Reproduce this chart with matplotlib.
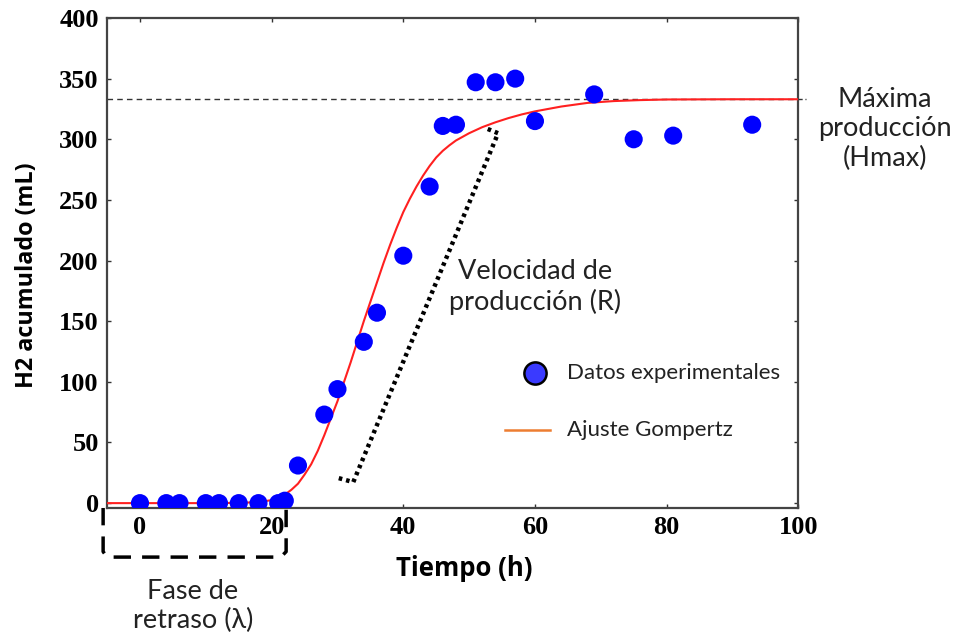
import matplotlib
matplotlib.use("Agg")
import matplotlib.pyplot as plt

# Experimental data (time h, accumulated H2 mL)
t_exp = [0, 4, 6, 10, 12, 15, 18, 21, 22, 24, 28, 30, 34, 36, 40, 44, 46, 48, 51, 54, 57, 60, 69, 75, 81, 93]
h_exp = [0, 0, 0, 0, 0, 0, 0, 0, 2, 31, 73, 94, 133, 157, 204, 261, 311, 312, 347, 347, 350, 315, 337, 300, 303, 312]

# Gompertz fit curve
t_fit = [-5, 0, 10, 15, 18, 20, 21, 22, 23, 24, 25, 26, 27, 28, 29, 30, 31, 32, 33, 34, 35, 36, 37, 38, 39, 40,
         41, 42, 43, 44, 45, 46, 47, 48, 50, 52, 54, 56, 58, 60, 64, 68, 72, 76, 80, 90, 100]
h_fit = [0, 0, 0, 0.2, 0.8, 2.5, 4.3, 7, 11, 16, 23.5, 32, 43, 56, 70, 84, 100, 116, 133, 150, 166, 182, 198, 213, 227, 240,
         251, 261, 270, 278, 285, 290.5, 295, 299, 305, 310, 314, 317.5, 320.5, 323, 327, 330, 331.5, 332.3, 332.8, 333, 333]

hmax_line = 333.5
x_ticks = [0, 20, 40, 60, 80, 100]
y_ticks = [0, 50, 100, 150, 200, 250, 300, 350, 400]

# slope bracket (R) and lag box
slope_x = [30.2, 32.4, 54.4, 52.6]
slope_y = [20.6, 17.3, 305, 309]
lag_x = [-5.6, -5.6, -5.0, 21.4, 22.2, 22.2]
lag_y = [-4.0, -40.0, -44.5, -44.5, -40.0, -5.5]

fig = plt.figure(figsize=(9.56, 6.38), dpi=100)
ax = fig.add_axes([0.112, 0.2038, 0.723, 0.768])

ax.plot(t_fit, h_fit, color='#ff2020', lw=1.5, zorder=3)
ax.scatter(t_exp, h_exp, s=170, color='#0000ff', edgecolors='none', zorder=4)
ax.axhline(hmax_line, color='#333333', lw=1.0, ls=(0, (4, 3)), zorder=2)
ax.plot([100, 101.2], [hmax_line, hmax_line], color='#333333', lw=1.0, ls=(0, (3, 2)), clip_on=False)

ax.plot(slope_x, slope_y, color='black', lw=3.2, ls=(0, (0.8, 0.9)), zorder=2)
ax.plot(lag_x, lag_y, color='black', lw=2.5, ls=(0, (5, 3.2)), clip_on=False, zorder=5)

ax.set_xlim(-5, 100)
ax.set_ylim(-4, 400)
ax.set_xticks(x_ticks)
ax.set_yticks(y_ticks)
ax.tick_params(direction='in', length=3, width=1, top=True, right=True, color='#333333', pad=6)
for lbl in ax.get_xticklabels() + ax.get_yticklabels():
    lbl.set_fontfamily('Liberation Serif')
    lbl.set_fontweight('bold')
    lbl.set_fontsize(19)
for sp in ax.spines.values():
    sp.set_color('#444444')
    sp.set_linewidth(1.6)

# axis labels
fig.text(464 / 956, 1 - 568 / 638, 'Tiempo (h)', fontfamily='Open Sans', fontweight='bold', fontsize=18.5,
         ha='center', va='center')
fig.text(27 / 956, 1 - 388 / 638, 'H2 acumulado (mL)', fontfamily='Open Sans', fontweight='bold', fontsize=16.8,
         ha='center', va='bottom', rotation=90)

# legend drawn manually
ax.plot([0.619], [0.2755], marker='o', ms=16, mfc='#3a3aff', mec='black', mew=1.8,
        transform=ax.transAxes, clip_on=False, zorder=6)
ax.text(0.665, 0.2755, 'Datos experimentales', transform=ax.transAxes, fontsize=16,
        family=['Lato', 'DejaVu Sans'], va='center', ha='left', color='#222222')
ax.plot([0.576, 0.641], [0.159, 0.159], color='#ed7d31', lw=1.8, transform=ax.transAxes, clip_on=False)
ax.text(0.665, 0.159, 'Ajuste Gompertz', transform=ax.transAxes, fontsize=16,
        family=['Lato', 'DejaVu Sans'], va='center', ha='left', color='#222222')

# annotations
fig.text(535 / 956, 1 - 287 / 638, 'Velocidad de\nproducción (R)', fontsize=19.5, family=['Lato', 'DejaVu Sans'],
         ha='center', va='center', linespacing=1.2, color='#222222')
fig.text(885 / 956, 1 - 129 / 638, 'Máxima\nproducción\n(Hmax)', fontsize=19.5, family=['Lato', 'DejaVu Sans'],
         ha='center', va='center', linespacing=1.2, color='#222222')
fig.text(193 / 956, 1 - 606 / 638, 'Fase de\nretraso (λ)', fontsize=19.5, family=['Lato', 'DejaVu Sans'],
         ha='center', va='center', linespacing=1.2, color='#222222')

fig.savefig('out.png', dpi=100)
